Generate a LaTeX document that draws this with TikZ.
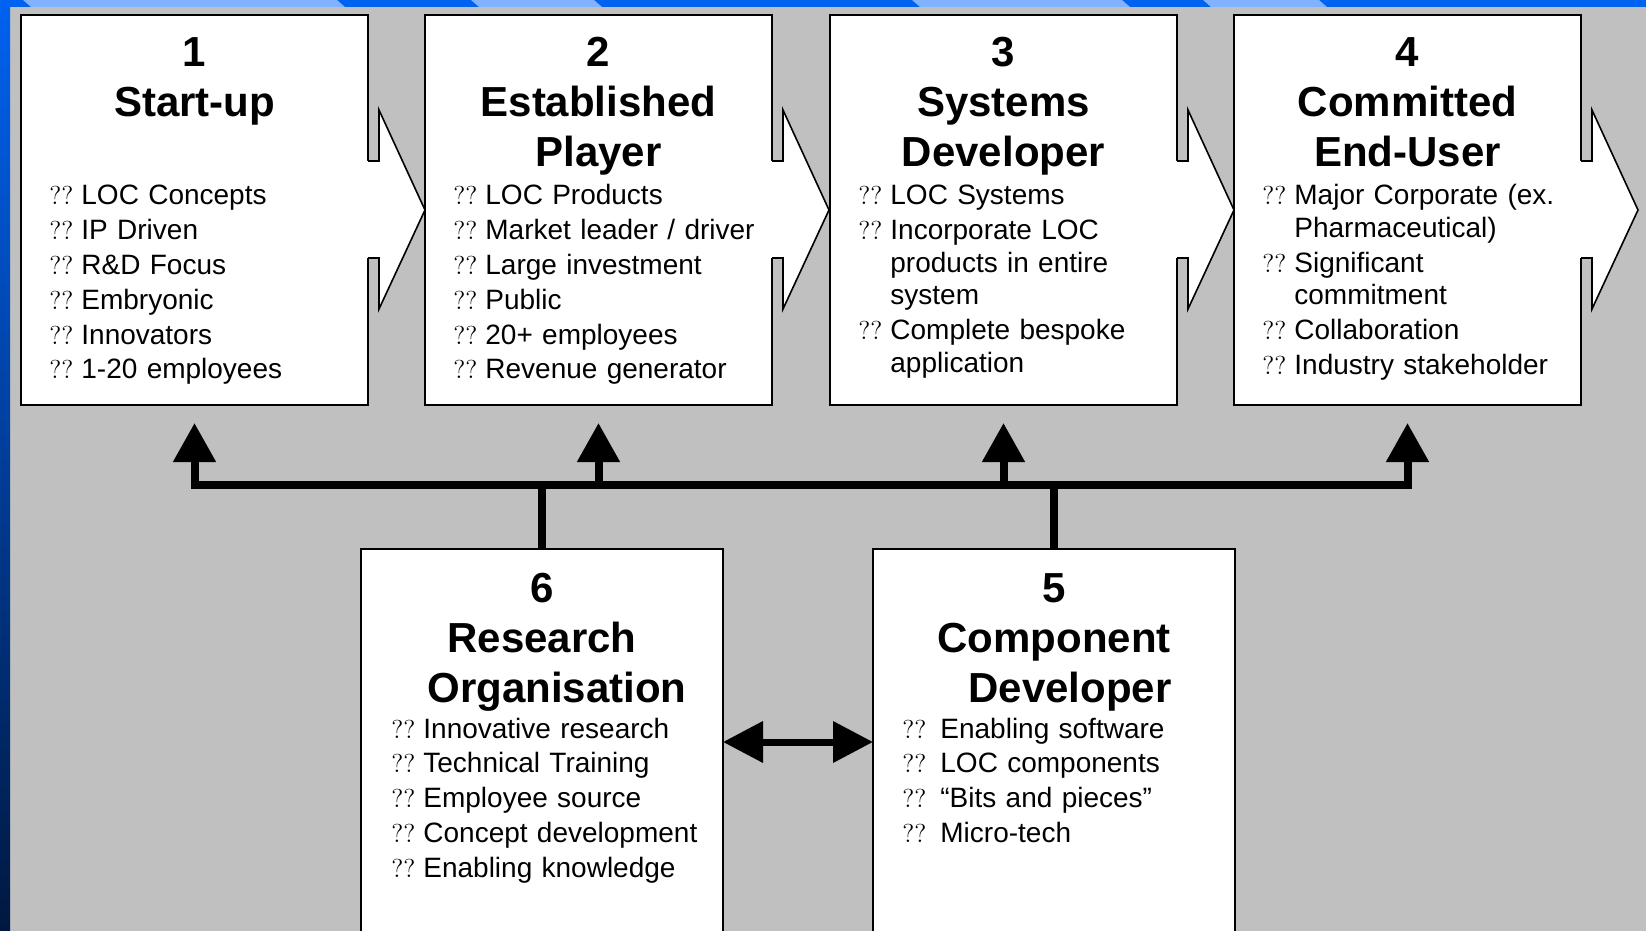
\documentclass[tikz,border=0pt]{standalone}
\usepackage{fontspec}
\setsansfont{Liberation Sans}
\usetikzlibrary{arrows.meta}
\usetikzlibrary{calc}
\usetikzlibrary{positioning}
\definecolor{slidegrey}{RGB}{192,192,192}
\definecolor{bandblue}{RGB}{0,98,240}
\definecolor{bandlight}{RGB}{128,178,255}
\definecolor{bandnavy}{RGB}{0,24,64}

% bullet marks and hanging items
\newcommand\qq{{\rmfamily\fontsize{13}{13}\selectfont ??}}
\newlength\bulw
\setlength\bulw{16pt}
\newcommand\bul[1]{\hangindent=\bulw\hangafter=1\makebox[\bulw][l]{\qq}#1\par}

\tikzset{
  stage/.style={draw, fill=white, line width=0.8pt, inner sep=0pt, outer sep=0pt,
    minimum width=173.5pt, minimum height=195pt},
  lowstage/.style={stage, minimum width=181pt, minimum height=200pt},
  heading/.style={inner sep=0pt, text width=#1, align=center, anchor=base,
    font=\sffamily\bfseries\fontsize{21}{25}\selectfont},
  heading/.default=173.5pt,
  points/.style={inner sep=0pt, text width=165pt, align=left, anchor=base west,
    font=\sffamily\fontsize{14}{16.25}\selectfont},
  edge/.style={line width=0.8pt, line join=miter},
  link/.style={line width=4pt},
  uplink/.style={link, -{Triangle[length=19.5pt,width=20.5pt]}},
  twoway/.style={line width=3.5pt, {Triangle[length=20pt,width=20pt]}-{Triangle[length=20pt,width=20pt]}},
}

% notched arrow on the right side of a stage box
\newcommand\chev[1]{%
  \fill[white] ($(#1.north east)+(-1,146)$) -- ++(12,0) -- ++(0,-51) -- ++(46,100)
    -- ++(-46,99) -- ++(0,-51) -- ++(-12,0) -- cycle;
  \draw[edge] ($(#1.north east)+(0,146)$) -- ++(11,0) -- ++(0,-51) -- ++(46,100)
    -- ++(-46,99) -- ++(0,-51) -- ++(-11,0);}

\begin{document}
\begin{tikzpicture}[x=0.5pt, y=-0.5pt]
  \useasboundingbox (0,0) rectangle (1646,931);
  \clip (0,0) rectangle (1646,931);

  % slide background
  \fill[slidegrey] (0,0) rectangle (1646,931);
  \shade[top color=bandblue, bottom color=bandnavy] (0,0) rectangle (10,931);
  \fill[bandblue] (0,0) rectangle (1646,7);
  \foreach \a/\b in {27/341, 475/598, 916/1126, 1207/1323}
    \fill[bandlight] (\a-4,0) -- (\b-4,0) -- (\b+4,7) -- (\a+4,7) -- cycle;

  % top row
  \node[stage, anchor=north west] (startup) at (21,15) {};
  \node[stage, anchor=north west] (established) at (425,15) {};
  \node[stage, anchor=north west] (systems) at (830,15) {};
  \node[stage, anchor=north west] (enduser) at (1234,15) {};
  \chev{startup}
  \chev{established}
  \chev{systems}
  \chev{enduser}

  \node[heading] (startuptitle) at (194.5,67) {1\\Start-up};
  \node[heading] (establishedtitle) at (598.5,67) {2\\Established\\Player};
  \node[heading] (systemstitle) at (1003.5,67) {3\\Systems\\Developer};
  \node[heading] (endusertitle) at (1407.5,67) {4\\Committed\\End-User};

  \node[points] (startuplist) at (49,205) {%
    \setlength\parskip{1.15pt}%
    \bul{LOC Concepts}\bul{IP Driven}\bul{R\&D Focus}%
    \bul{Embryonic}\bul{Innovators}\bul{1-20 employees}};
  \node[points] (establishedlist) at (453,205) {%
    \setlength\parskip{1.15pt}%
    \bul{LOC Products}\bul{Market leader / driver}\bul{Large investment}%
    \bul{Public}\bul{20+ employees}\bul{Revenue generator}};
  \node[points] (systemslist) at (858,205) {%
    \setlength\parskip{1.15pt}%
    \bul{LOC Systems}\bul{Incorporate LOC\newline products in entire\newline system}%
    \bul{Complete bespoke\newline application}};
  \node[points] (enduserlist) at (1262,205) {%
    \setlength\parskip{1.15pt}%
    \bul{Major Corporate (ex.\newline Pharmaceutical)}\bul{Significant\newline commitment}%
    \bul{Collaboration}\bul{Industry stakeholder}};

  % bottom row
  \node[lowstage, anchor=north west] (research) at (361,549) {};
  \node[lowstage, anchor=north west] (component) at (873,549) {};

  \node[heading=181pt] (researchtitle) at (542,602) {6\\Research\\\hspace*{15pt}Organisation};
  \node[heading=181pt] (componenttitle) at (1054,602) {5\\Component\\\hspace*{16pt}Developer};

  \node[points] (researchlist) at (391,738) {%
    \setlength\parskip{1.15pt}%
    \bul{Innovative research}\bul{Technical Training}\bul{Employee source}%
    \bul{Concept development}\bul{Enabling knowledge}};
  \node[points] (componentlist) at (902,738) {%
    \setlength\bulw{19pt}\setlength\parskip{1.15pt}%
    \bul{Enabling software}\bul{LOC components}\bul{“Bits and pieces”}%
    \bul{Micro-tech}};

  % connectors
  \coordinate (hub) at (0,485);
  \coordinate (duo) at (0,742);
  \draw[link] (research.north) -- (research.north |- hub);
  \draw[link] (component.north) -- (component.north |- hub);
  \draw[link, line cap=rect] (startup.south |- hub) -- (enduser.south |- hub);
  \foreach \n in {startup,established,systems,enduser}
    \draw[uplink] (\n.south |- hub) -- ([yshift=-9pt]\n.south);
  \draw[twoway] (research.east |- duo) -- (component.west |- duo);
\end{tikzpicture}
\end{document}
